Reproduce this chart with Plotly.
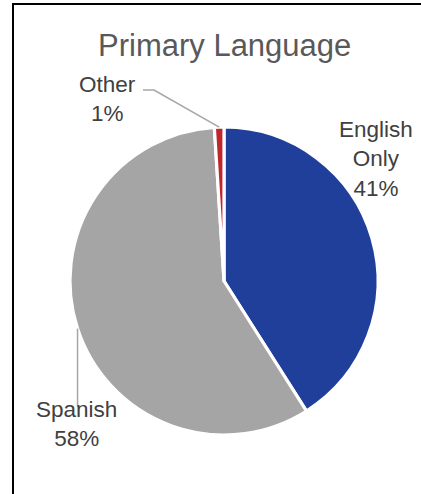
import math
import plotly.graph_objects as go

# Primary language breakdown (percent)
languages = ["English Only", "Spanish", "Other"]
shares = [41, 58, 1]
label_lines = ["English<br>Only", "Spanish", "Other"]
slice_colors = ["#203F9A", "#A5A5A5", "#C0272D"]

W, H = 421, 494
CX, CY, R = 224, 281, 154          # pie centre and radius in pixels


def px(x):
    return x / W


def py(y):
    return 1 - y / H


def edge_point(idx):
    """Pixel point on the rim at the middle of slice idx (clockwise from 12 o'clock)."""
    total = sum(shares)
    start = sum(shares[:idx])
    frac = (start + shares[idx] / 2) / total
    ang = 2 * math.pi * frac
    return CX + R * math.sin(ang), CY - R * math.cos(ang)


fig = go.Figure(
    go.Pie(
        labels=languages,
        values=shares,
        sort=False,
        direction="clockwise",
        rotation=0,
        marker=dict(colors=slice_colors, line=dict(color="white", width=3.2)),
        textinfo="none",
        hoverinfo="label+percent",
        domain=dict(x=[px(CX - R), px(CX + R)], y=[py(CY + R), py(CY - R)]),
        showlegend=False,
    )
)

label_font = dict(family="Liberation Sans, Arial, sans-serif", size=22.5, color="#404040")

# Data labels: name + percentage
label_pos = {0: (376, 159), 1: (76, 424), 2: (107, 99)}
annotations = []
for i, (x, y) in label_pos.items():
    annotations.append(
        dict(
            x=px(x), y=py(y), xref="paper", yref="paper",
            text=f"{label_lines[i]}<br>{shares[i]}%",
            showarrow=False, font=label_font,
            xanchor="center", yanchor="middle", align="center",
        )
    )

annotations.append(
    dict(
        x=px(224), y=py(45), xref="paper", yref="paper",
        text="Primary Language", showarrow=False,
        font=dict(family="Liberation Sans, Arial, sans-serif", size=31, color="#595959"),
        xanchor="center", yanchor="middle",
    )
)

leader = dict(color="#A6A6A6", width=1.5)
shapes = []

# Leader for "Other": short horizontal run then down to the rim
ox, oy = edge_point(2)
shapes.append(
    dict(
        type="path", xref="paper", yref="paper",
        path=f"M {px(143)},{py(90)} L {px(154)},{py(90)} L {px(ox)},{py(oy)}",
        line=leader,
    )
)

# Leader for "Spanish": straight down from the rim to the label
sx, sy = edge_point(1)
shapes.append(
    dict(
        type="line", xref="paper", yref="paper",
        x0=px(sx), y0=py(sy), x1=px(sx), y1=py(407),
        line=leader,
    )
)

# Chart frame (top and left edges fall inside the canvas)
shapes.append(
    dict(
        type="path", xref="paper", yref="paper",
        path=f"M {px(13)},{py(H + 5)} L {px(13)},{py(4)} L {px(W + 5)},{py(4)}",
        line=dict(color="black", width=2),
    )
)

fig.update_layout(
    width=W, height=H,
    margin=dict(l=0, r=0, t=0, b=0),
    paper_bgcolor="white", plot_bgcolor="white",
    annotations=annotations, shapes=shapes,
)

fig.write_html("out.html")
